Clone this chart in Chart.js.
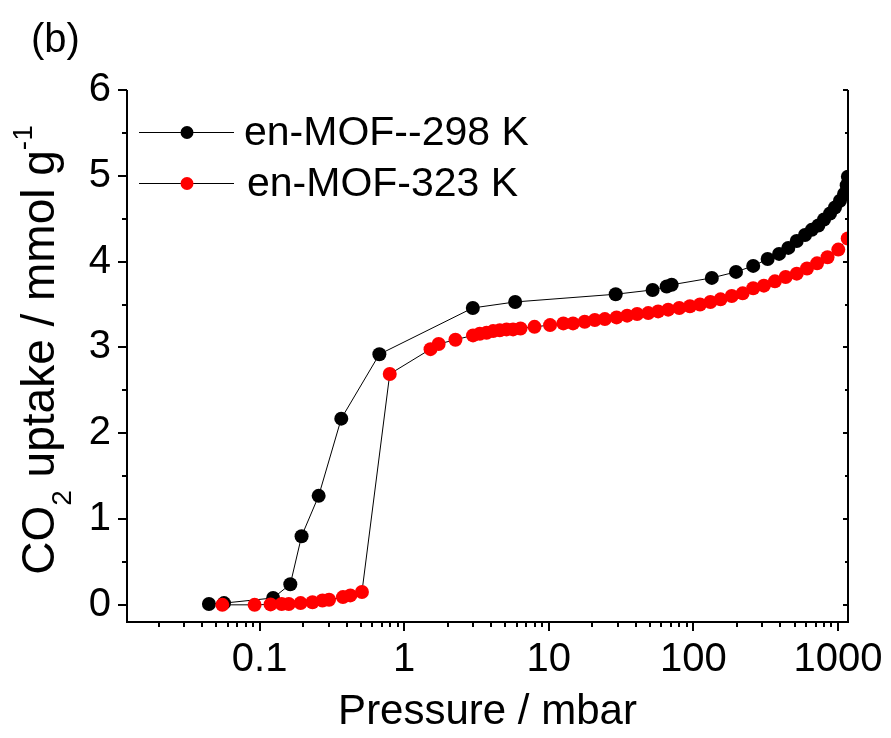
<!DOCTYPE html>
<html>
<head>
<meta charset="utf-8">
<script src="https://cdn.jsdelivr.net/npm/chart.js@4"></script>
<style>
  html, body { margin: 0; padding: 0; background: #fff; }
  #wrap { width: 891px; height: 738px; position: relative; }
</style>
</head>
<body>
<div id="wrap"><canvas id="uptake-canvas"></canvas></div>
<script>
// Изотерма при 298 K (давление в мбар, поглощение в ммоль/г)
const pressure298 = [0.0446, 0.0567, 0.124, 0.163, 0.195, 0.256, 0.367, 0.673, 2.98, 5.85,
  29.0, 52.2, 65.3, 70.7, 134, 197, 259, 326, 391, 453, 518, 591, 658, 731, 800, 881, 953,
  1032, 1101, 1148, 1170];
const uptake298 = [0.01, 0.02, 0.08, 0.24, 0.80, 1.27, 2.17, 2.92, 3.46, 3.53,
  3.62, 3.67, 3.71, 3.73, 3.81, 3.88, 3.95, 4.03, 4.09, 4.16, 4.24, 4.31, 4.37, 4.42, 4.49, 4.56, 4.63,
  4.71, 4.79, 4.89, 4.99];

// Изотерма при 323 K
const pressure323 = [0.0552, 0.0923, 0.119, 0.142, 0.159, 0.192, 0.232, 0.272, 0.302, 0.377, 0.424, 0.510,
  0.794, 1.52, 1.73, 2.26, 2.99, 3.33, 3.71, 4.12, 4.58, 5.10, 5.66, 6.37, 7.96, 10.2,
  12.6, 14.7, 17.7, 20.8, 24.4, 29.4, 34.8, 40.8, 48.7, 57.0, 66.9, 79.8, 94.6, 111, 131, 154,
  184, 219, 259, 307, 366, 434, 518, 610, 716, 846, 1004, 1167];
const uptake323 = [0.00, 0.00, 0.005, 0.01, 0.01, 0.02, 0.03, 0.05, 0.06, 0.09, 0.11, 0.15,
  2.69, 2.98, 3.04, 3.09, 3.14, 3.16, 3.17, 3.19, 3.20, 3.21, 3.21, 3.22, 3.24, 3.26,
  3.28, 3.28, 3.30, 3.32, 3.33, 3.35, 3.37, 3.39, 3.40, 3.42, 3.44, 3.46, 3.48, 3.50, 3.53, 3.56,
  3.60, 3.63, 3.69, 3.72, 3.77, 3.82, 3.86, 3.92, 3.98, 4.05, 4.14, 4.27];

const seriesLabels = ['en-MOF--298 K', 'en-MOF-323 K'];
const seriesColors = ['#000000', '#ff0000'];
const xTickValues = [0.1, 1, 10, 100, 1000];
const yTickValues = [0, 1, 2, 3, 4, 5, 6];

const FONT = '"Liberation Sans", Arial, sans-serif';

const toPoints = (xs, ys) => xs.map((v, i) => ({ x: v, y: ys[i] }));

// Рамка осей, засечки, легенда и подписи
const decorPlugin = {
  id: 'decor',
  afterDraw(chart) {
    const { ctx, chartArea: a, scales: { x, y } } = chart;
    ctx.save();
    ctx.strokeStyle = '#000';
    ctx.lineWidth = 2;
    ctx.beginPath();
    ctx.moveTo(a.left, a.top);
    ctx.lineTo(a.left, a.bottom);
    ctx.lineTo(a.right, a.bottom);
    ctx.lineTo(a.right, a.top);
    ctx.stroke();

    ctx.beginPath();
    // засечки по Y: основные и промежуточные
    yTickValues.forEach((v) => {
      [v, v + 0.5].forEach((t, k) => {
        if (t > y.max) return;
        const py = Math.round(y.getPixelForValue(t));
        ctx.moveTo(a.left, py); ctx.lineTo(a.left - (k === 0 ? 9 : 5), py);
        ctx.moveTo(a.right, py); ctx.lineTo(a.right - (k === 0 ? 5 : 3), py);
      });
    });
    // засечки по X (логарифмическая шкала)
    for (let d = -2; d <= 3; d++) {
      for (let m = 1; m <= 9; m++) {
        const v = m * Math.pow(10, d);
        if (v < x.min || v > x.max) continue;
        const px = Math.round(x.getPixelForValue(v));
        ctx.moveTo(px, a.bottom); ctx.lineTo(px, a.bottom + (m === 1 ? 9 : 5));
      }
    }
    ctx.stroke();

    // легенда
    const rows = [132, 183];
    const textX = [244, 247];
    seriesLabels.forEach((lab, i) => {
      const ly = rows[i];
      ctx.lineWidth = 1;
      ctx.beginPath();
      ctx.moveTo(139, ly + 0.5); ctx.lineTo(234, ly + 0.5);
      ctx.stroke();
      ctx.fillStyle = seriesColors[i];
      ctx.beginPath();
      ctx.arc(187, ly + 0.5, 6.5, 0, Math.PI * 2);
      ctx.fill();
      ctx.fillStyle = '#000';
      ctx.font = '41px ' + FONT;
      ctx.textBaseline = 'alphabetic';
      ctx.fillText(lab, textX[i], ly + 13);
    });

    // метка панели
    ctx.font = '40px ' + FONT;
    ctx.fillText('(b)', 31, 52);

    // подпись оси Y с индексами
    const parts = [
      { t: 'CO', size: 46, dy: 0 },
      { t: '2', size: 28, dy: 17 },
      { t: ' uptake / mmol g', size: 46, dy: 0 },
      { t: '-1', size: 28, dy: -22 }
    ];
    ctx.translate(54, 350);
    ctx.rotate(-Math.PI / 2);
    let total = 0;
    parts.forEach(p => { ctx.font = p.size + 'px ' + FONT; p.w = ctx.measureText(p.t).width; total += p.w; });
    let x0 = -total / 2;
    parts.forEach(p => { ctx.font = p.size + 'px ' + FONT; ctx.fillText(p.t, x0, p.dy); x0 += p.w; });
    ctx.restore();
  }
};

const ctx = document.getElementById('uptake-canvas').getContext('2d');

window.uptakeChart = new Chart(ctx, {
  type: 'line',
  data: {
    datasets: [{
      label: seriesLabels[0],
      data: toPoints(pressure298, uptake298),
      borderColor: '#000',
      borderWidth: 1,
      backgroundColor: seriesColors[0],
      pointBackgroundColor: seriesColors[0],
      pointBorderWidth: 0,
      pointRadius: 7,
      order: 1
    }, {
      label: seriesLabels[1],
      data: toPoints(pressure323, uptake323),
      borderColor: '#000',
      borderWidth: 1,
      backgroundColor: seriesColors[1],
      pointBackgroundColor: seriesColors[1],
      pointBorderWidth: 0,
      pointRadius: 7,
      order: 0
    }]
  },
  options: {
    responsive: true,
    maintainAspectRatio: false,
    animation: false,
    events: [],
    layout: { padding: { left: 0, right: 43, top: 90, bottom: 0 } },
    plugins: {
      legend: { display: false },
      tooltip: { enabled: false }
    },
    scales: {
      x: {
        type: 'logarithmic',
        min: 0.0121,
        max: 1172,
        grid: { display: false, drawTicks: false },
        border: { display: false },
        afterBuildTicks: s => { s.ticks = xTickValues.map(v => ({ value: v })); },
        afterFit: s => { s.height = 116; s.paddingLeft = 0; s.paddingRight = 0; },
        ticks: {
          color: '#000',
          font: { family: FONT, size: 40 },
          padding: 14,
          autoSkip: false,
          maxRotation: 0,
          callback: v => String(v)
        },
        title: {
          display: true,
          text: 'Pressure / mbar',
          color: '#000',
          font: { family: FONT, size: 42 },
          padding: { top: 0, bottom: 0 }
        }
      },
      y: {
        min: -0.2,
        max: 6,
        grid: { display: false, drawTicks: false },
        border: { display: false },
        afterBuildTicks: s => { s.ticks = yTickValues.map(v => ({ value: v })); },
        afterFit: s => { s.width = 127; s.paddingTop = 0; s.paddingBottom = 0; },
        ticks: {
          color: '#000',
          font: { family: FONT, size: 40 },
          padding: 16,
          callback: v => String(v)
        }
      }
    }
  },
  plugins: [decorPlugin]
});
</script>
</body>
</html>
